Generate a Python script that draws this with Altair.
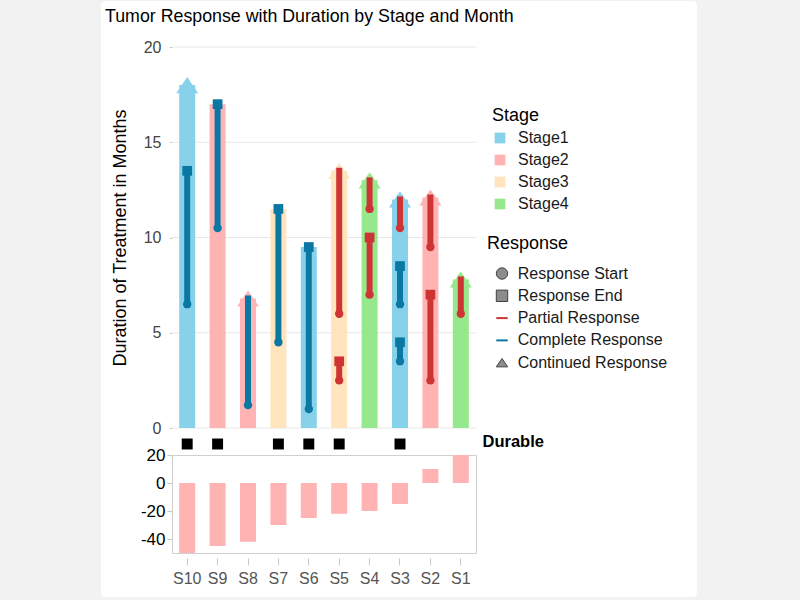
import altair as alt
import pandas as pd

# ---- subjects, ordered as on the axis ----
subjects = ["S10", "S9", "S8", "S7", "S6", "S5", "S4", "S3", "S2", "S1"]
stage = ["Stage1", "Stage2", "Stage2", "Stage3", "Stage1", "Stage3", "Stage4", "Stage1", "Stage2", "Stage4"]
months = [18, 17, 6.8, 11.5, 9.5, 13.5, 13, 12, 12.1, 7.8]
ongoing = [True, False, True, False, False, True, True, True, True, True]
durable = [True, True, False, True, True, True, False, True, False, False]
tumor_change = [-50, -45, -42, -30, -25, -22, -20, -15, 10, 20]

# ---- response episodes ----
resp_subject = ["S10", "S9", "S8", "S7", "S6", "S5", "S5", "S4", "S4", "S3", "S3", "S3", "S2", "S2", "S1"]
resp_type = ["Complete Response", "Complete Response", "Complete Response", "Complete Response",
             "Complete Response", "Partial Response", "Partial Response", "Partial Response",
             "Partial Response", "Partial Response", "Complete Response", "Complete Response",
             "Partial Response", "Partial Response", "Partial Response"]
resp_start = [6.5, 10.5, 1.2, 4.5, 1.0, 6.0, 2.5, 7.0, 11.5, 10.5, 6.5, 3.5, 9.5, 2.5, 6.0]
resp_end = [13.5, 17, 6.8, 11.5, 9.5, 13.5, 3.5, 10, 13, 12, 8.5, 4.5, 12.1, 7, 7.8]
resp_closed = [True, True, False, True, True, False, True, True, False, False, True, True, False, True, False]

# ---- categories and styling ----
stage_names = ["Stage1", "Stage2", "Stage3", "Stage4"]
stage_colors = ["#87d1ea", "#ffb3b3", "#ffe4bd", "#96e88c"]
resp_names = ["Partial Response", "Complete Response"]
resp_colors = ["#cf3434", "#0b78a3"]
marker_names = ["Response Start", "Response End", "Partial Response", "Complete Response", "Continued Response"]
marker_shapes = ["circle", "square", "M-1,0L1,0", "M-1,0L1,0", "M-1,0.73L0,-0.73L1,0.73Z"]
duration_ticks = [0, 5, 10, 15, 20]
change_ticks = [-40, -20, 0, 20]

FONT = "Liberation Sans"
PW = 304  # plot width shared by all panels

bars_df = pd.DataFrame({"subject": subjects, "stage": stage, "months": months, "ongoing": ongoing})
heads_df = bars_df[bars_df["ongoing"]].assign(marker="Continued Response")
resp_df = pd.DataFrame({"subject": resp_subject, "rtype": resp_type, "start": resp_start,
                        "end": resp_end, "closed": resp_closed})
start_df = resp_df.assign(marker="Response Start")
end_df = resp_df[resp_df["closed"]].assign(marker="Response End")
durable_df = pd.DataFrame({"subject": [s for s, d in zip(subjects, durable) if d]}).assign(row="Durable")
change_df = pd.DataFrame({"subject": subjects, "change": tumor_change})

xs = alt.Scale(domain=subjects, paddingInner=0, paddingOuter=0)
x_hidden = alt.X("subject:N", scale=xs, axis=None, sort=subjects)
ys = alt.Scale(domain=[0, 20], nice=False)
y_axis = alt.Axis(values=duration_ticks, grid=False, domain=False, tickSize=3, tickColor="#cccccc",
                  labelPadding=8, labelFontSize=16, labelColor="#444444",
                  title="Duration of Treatment in Months", titleFontSize=18, titleFontWeight="normal",
                  titleColor="black", titlePadding=14, zindex=1)

stage_color = alt.Color("stage:N", scale=alt.Scale(domain=stage_names, range=stage_colors),
                        legend=alt.Legend(title="Stage", orient="none", legendX=320, legendY=59.5,
                                          symbolType="square", symbolSize=115, symbolStrokeWidth=0,
                                          symbolOffset=0, labelOffset=10, rowPadding=6,
                                          titleFontSize=18, titleFontWeight="normal", titleColor="black",
                                          titlePadding=5.5, labelFontSize=16, labelColor="#1a1a1a"))

is_line = "(datum.value === 'Partial Response' || datum.value === 'Complete Response')"
shape_enc = alt.Shape(
    "marker:N",
    scale=alt.Scale(domain=marker_names, range=marker_shapes),
    legend=alt.Legend(
        title="Response", orient="none", legendX=315, legendY=188, symbolSize=130,
        symbolOffset=7, labelOffset=7.7, rowPadding=6.3, titleFontSize=18, titleFontWeight="normal",
        titleColor="black", titlePadding=12.5, labelFontSize=16, labelColor="#1a1a1a",
        symbolOpacity=1,
        symbolFillColor={"expr": is_line + " ? 'transparent' : '#8c8c8c'"},
        symbolStrokeColor={"expr": "datum.value === 'Partial Response' ? '#cf3434' : "
                                   "(datum.value === 'Complete Response' ? '#0b78a3' : '#404040')"},
        symbolStrokeWidth={"expr": is_line + " ? 2 : 1"},
    ),
)
resp_fill = alt.Fill("rtype:N", scale=alt.Scale(domain=resp_names, range=resp_colors), legend=None)

# white card behind the whole figure
card = alt.Chart(pd.DataFrame({"card": [1]})).mark_rect(color="white", cornerRadius=4).encode(
    x=alt.value(-71), x2=alt.value(525), y=alt.value(-46), y2=alt.value(550))

grid = alt.Chart(pd.DataFrame({"tick": duration_ticks})).mark_rule(color="#e8e8e8", strokeWidth=1).encode(
    y=alt.Y("tick:Q", scale=ys, axis=y_axis))

bars = alt.Chart(bars_df).mark_bar(size=16).encode(
    x=x_hidden, y=alt.Y("months:Q", scale=ys, axis=y_axis), color=stage_color)

heads = alt.Chart(heads_df).mark_point(filled=True, opacity=1, size=484).encode(
    x=x_hidden, y=alt.Y("months:Q", scale=ys, axis=y_axis), color=stage_color, shape=shape_enc)

lines = alt.Chart(resp_df).mark_rule(strokeWidth=6, strokeCap="square").encode(
    x=x_hidden, y=alt.Y("start:Q", scale=ys, axis=y_axis), y2="end:Q",
    stroke=alt.Stroke("rtype:N", scale=alt.Scale(domain=resp_names, range=resp_colors), legend=None))

starts = alt.Chart(start_df).mark_point(filled=True, opacity=1, size=70).encode(
    x=x_hidden, y=alt.Y("start:Q", scale=ys, axis=y_axis), fill=resp_fill, shape=shape_enc)

ends = alt.Chart(end_df).mark_point(filled=True, opacity=1, size=95).encode(
    x=x_hidden, y=alt.Y("end:Q", scale=ys, axis=y_axis), fill=resp_fill, shape=shape_enc)

top = alt.layer(card, grid, bars, heads, lines, starts, ends).properties(width=PW, height=381)

middle = alt.Chart(durable_df).mark_square(size=120, color="black", opacity=1).encode(
    x=x_hidden,
    y=alt.Y("row:N", axis=alt.Axis(orient="right", title=None, domain=False, ticks=False,
                                   labelFontSize=16.5, labelFontWeight="bold", labelColor="black",
                                   labelPadding=6)),
    yOffset=alt.value(2.5),
).properties(width=PW, height=27)

bottom = alt.Chart(change_df).mark_bar(size=16, color="#ffb3b3").encode(
    x=alt.X("subject:N", scale=xs, sort=subjects,
            axis=alt.Axis(title=None, labelAngle=0, domain=False, tickSize=7, tickColor="#c8c8c8",
                          offset=5, labelPadding=5, labelFontSize=16, labelColor="#555555")),
    y=alt.Y("change:Q", scale=alt.Scale(domain=[-50, 20], nice=False),
            axis=alt.Axis(values=change_ticks, title=None, grid=False, domain=False, tickSize=5,
                          tickColor="#c8c8c8", labelPadding=2, labelFontSize=17, labelColor="black",
                          labelExpr="'' + datum.value")),
).properties(width=PW, height=98, view=alt.ViewBackground(stroke="#d0d0d0", strokeWidth=1))

chart = alt.vconcat(top, middle, bottom, spacing=0, bounds="flush").properties(
    title=alt.Title("Tumor Response with Duration by Stage and Month", anchor="start", fontSize=17.8,
                    fontWeight="normal", color="black", offset=-16.7, baseline="alphabetic", dx=4, dy=22),
    padding={"left": 101, "top": 1, "right": 103, "bottom": 3},
).configure(font=FONT, background="#f2f2f2").configure_view(strokeWidth=0)

chart.save("out.html", embed_options={"renderer": "svg", "actions": False})
